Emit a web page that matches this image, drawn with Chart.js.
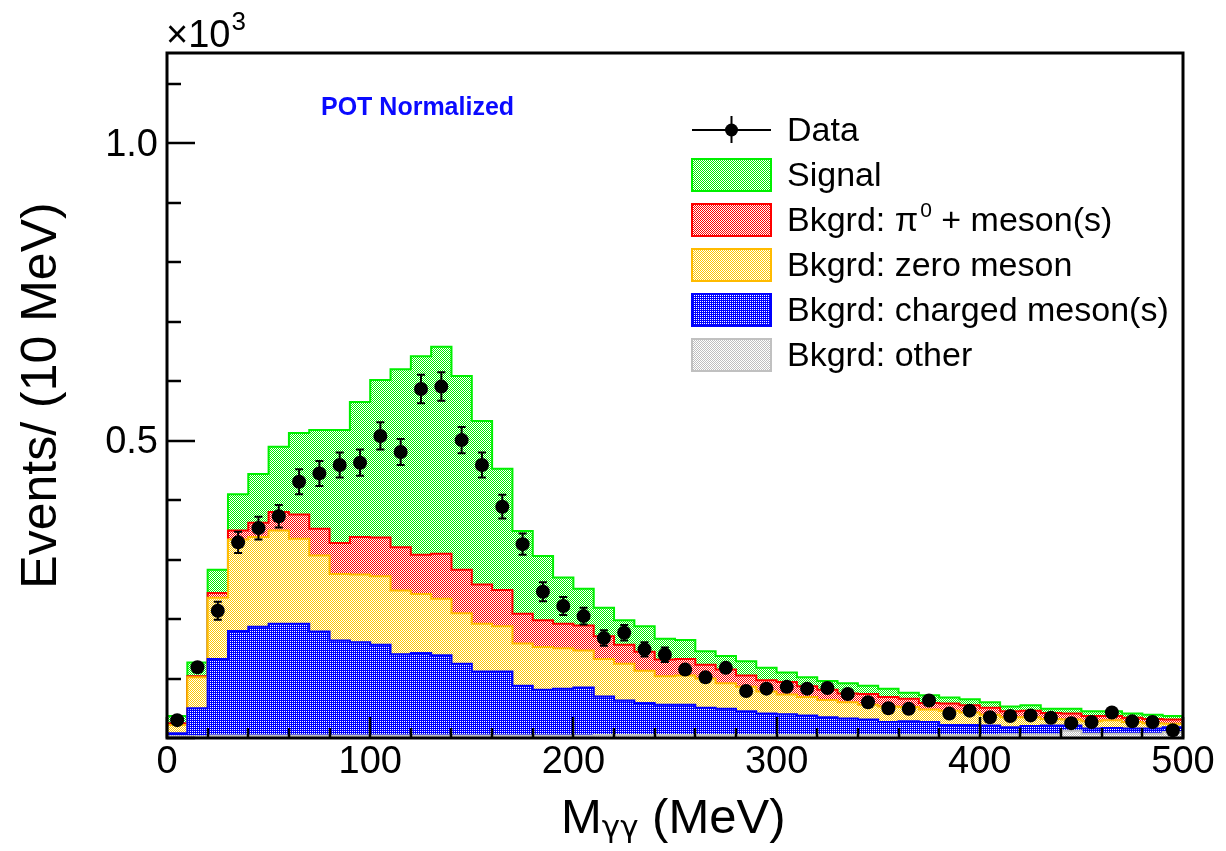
<!DOCTYPE html>
<html><head><meta charset="utf-8">
<script src="https://cdn.jsdelivr.net/npm/chart.js@4/dist/chart.umd.min.js"></script>
<style>html,body{margin:0;padding:0;background:#fff;overflow:hidden}</style>
</head><body>
<canvas id="c" width="1226" height="851"></canvas>
<script>
// ---------------- DATA (events per 10 MeV) ----------------
const binEdges = [0,10,20,30,40,50,60,70,80,90,100,110,120,130,140,150,160,170,180,190,200,
  210,220,230,240,250,260,270,280,290,300,310,320,330,340,350,360,370,380,390,400,
  410,420,430,440,450,460,470,480,490,500];
const other   = [3,3,4,4,4,4,4,4,4,4, 4,4,4,4,4,4,4,4,4,4, 4,5,5,5,5,5,5,5,5,5, 5,5,5,5,5,5,5,5,5,5, 5,6,6,6,12,7,7,7,7,10];
const charged = [5,47,129,176,183,188,188,175,160,157, 153,137,139,135,121,108,108,84,77,79, 81,65,58,54,51,51,46,44,40,36, 35,33,30,28,26,22,23,22,17,17, 16,12,14,15,9,9,10,9,9,8];
const zeroMes = [14,52,103,154,151,157,143,128,112,114, 115,107,99,95,85,80,76,71,72,68, 62,63,62,54,48,49,49,43,41,37, 33,31,29,27,25,26,24,21,24,21, 18,17,15,11,10,12,13,11,9,6];
const pi0Mes  = [3,2,8,15,24,31,41,45,52,63, 65,73,66,76,73,66,61,50,45,41, 42,38,32,32,28,28,23,23,19,19, 21,18,17,15,18,16,14,11,12,12, 12,10,11,10,10,9,7,7,7,7];
const signal  = [12,23,39,61,82,110,137,166,190,227, 265,299,334,348,326,275,204,139,108,78, 62,48,41,43,35,32,23,23,24,21, 16,15,15,17,14,14,10,13,10,10, 9,8,9,7,8,8,8,7,7,6];
const dataVals= [30,119,214,329,353,373,431,445,459,463, 508,481,587,591,501,459,389,326,246,222, 205,168,177,149,140,115,102,118,79,83, 86,83,84,74,60,50,49,63,41,46, 35,37,38,34,25,27,43,28,27,13];
const dataErr = [6,11,15,18,19,19,21,21,21,22, 23,22,24,24,22,21,20,18,16,15, 14,13,13,12,12,11,10,11,9,9, 9,9,9,9,8,7,7,8,6,7, 6,6,6,6,5,5,7,5,5,4];

const xTickValues = [0,100,200,300,400,500];
const xTickLabels = ['0','100','200','300','400','500'];
const yTickValues = [500,1000];
const yTickLabels = ['0.5','1.0'];
const legendLabels = ['Data','Signal','Bkgrd: π⁰ + meson(s)','Bkgrd: zero meson','Bkgrd: charged meson(s)','Bkgrd: other'];

// ---------------- STYLE ----------------
const FONT = "'Liberation Sans', Arial, Helvetica, sans-serif";
const colGreen = '#00f000', colRed = '#ff0000', colYellow = '#ffc800', colBlue = '#0000ff', colGray = '#bfbfbf';

function pat(color, dense){
  const c = document.createElement('canvas'); c.width = 2; c.height = 2;
  const g = c.getContext('2d');
  g.fillStyle = '#ffffff'; g.fillRect(0,0,2,2);
  g.fillStyle = color; g.fillRect(0,0,1,1); g.fillRect(1,1,1,1);
  if (dense) g.fillRect(1,0,1,1);
  return g.createPattern(c,'repeat');
}
function hist(vals){
  const pts = vals.map((v,i)=>({x:binEdges[i], y:v}));
  pts.push({x:binEdges[vals.length], y:vals[vals.length-1]});
  return pts;
}
function histDs(label, vals, fillPat, line, fill){
  return {label, data:hist(vals), stepped:'before', pointRadius:0, borderWidth:2,
    borderColor:line, backgroundColor:fillPat, fill, stack:'mc', tension:0};
}
const centers = dataVals.map((v,i)=>(binEdges[i]+binEdges[i+1])/2);

const legendStyles = [
  null,
  {fill:pat(colGreen), line:colGreen},
  {fill:pat(colRed), line:colRed},
  {fill:pat(colYellow), line:'#ffbb00'},
  {fill:pat(colBlue, true), line:colBlue},
  {fill:pat(colGray), line:'#c0c0c0'}
];

const rootDecor = {
  id:'rootDecor',
  afterDatasetsDraw(chart){
    const ctx = chart.ctx, xs = chart.scales.x, ys = chart.scales.y;
    ctx.save();
    ctx.strokeStyle = '#000'; ctx.lineWidth = 2;
    const r = 7;
    dataVals.forEach((v,i)=>{
      const px = xs.getPixelForValue(centers[i]);
      const py = ys.getPixelForValue(v);
      const hi = ys.getPixelForValue(v + dataErr[i]);
      const lo = ys.getPixelForValue(v - dataErr[i]);
      if (lo - py > r) {
        ctx.beginPath(); ctx.moveTo(px, hi); ctx.lineTo(px, lo); ctx.stroke();
        ctx.beginPath(); ctx.moveTo(px-4, hi); ctx.lineTo(px+4, hi);
        ctx.moveTo(px-4, lo); ctx.lineTo(px+4, lo); ctx.stroke();
      }
    });
    ctx.restore();
  },
  afterDraw(chart){
    const ctx = chart.ctx, ca = chart.chartArea, xs = chart.scales.x, ys = chart.scales.y;
    ctx.save();
    // frame
    ctx.strokeStyle = '#000'; ctx.lineWidth = 3;
    ctx.strokeRect(ca.left, ca.top, ca.right-ca.left, ca.bottom-ca.top);
    // x ticks (inside)
    ctx.lineWidth = 2.5;
    for (let v = 0; v <= 500; v += 20) {
      const px = Math.round(xs.getPixelForValue(v));
      const len = (v % 100 === 0) ? 21 : 10;
      ctx.beginPath(); ctx.moveTo(px, ca.bottom); ctx.lineTo(px, ca.bottom - len); ctx.stroke();
    }
    // y ticks (inside)
    for (let v = 0; v <= ys.max; v += 100) {
      const py = Math.round(ys.getPixelForValue(v));
      const len = (v % 500 === 0) ? 28 : 14;
      ctx.beginPath(); ctx.moveTo(ca.left, py); ctx.lineTo(ca.left + len, py); ctx.stroke();
    }
    ctx.fillStyle = '#000';
    ctx.textAlign = 'left'; ctx.textBaseline = 'alphabetic';
    // exponent label x10^3
    ctx.font = `38px ${FONT}`;
    ctx.fillText('×10', 166, 47);
    const w10 = ctx.measureText('×10').width;
    ctx.font = `26px ${FONT}`;
    ctx.fillText('3', 166 + w10 + 1, 30);
    // x title M_{γγ} (MeV)
    ctx.font = `49px ${FONT}`;
    ctx.fillText('M', 561, 833);
    let xx = 561 + ctx.measureText('M').width;
    ctx.font = `31px 'DejaVu Sans', ${FONT}`;
    ctx.fillText('γγ', xx, 837);
    xx += ctx.measureText('γγ').width;
    ctx.font = `49px ${FONT}`;
    ctx.fillText(' (MeV)', xx, 833);
    // POT Normalized
    ctx.fillStyle = '#0a0aff';
    ctx.font = `bold 25px ${FONT}`;
    ctx.fillText('POT Normalized', 321, 115);
    // legend
    ctx.fillStyle = '#000';
    const rowY = [130,175,220,265,310,355];
    const bx = 692, bw = 79, bh = 32, tx = 787;
    legendLabels.forEach((lab,i)=>{
      const cy = rowY[i];
      if (i === 0) {
        ctx.strokeStyle = '#000'; ctx.lineWidth = 2;
        ctx.beginPath(); ctx.moveTo(bx, cy); ctx.lineTo(bx+bw, cy);
        ctx.moveTo(bx+bw/2, cy-14); ctx.lineTo(bx+bw/2, cy+13); ctx.stroke();
        ctx.beginPath(); ctx.arc(bx+bw/2, cy, 6.5, 0, Math.PI*2); ctx.fill();
      } else {
        const st = legendStyles[i];
        ctx.fillStyle = st.fill;
        ctx.fillRect(bx, cy-bh/2, bw, bh);
        ctx.strokeStyle = st.line; ctx.lineWidth = 2;
        ctx.strokeRect(bx, cy-bh/2, bw, bh);
        ctx.fillStyle = '#000';
      }
      ctx.font = `34px ${FONT}`;
      const base = cy + 11;
      const k = lab.indexOf('⁰');
      if (k < 0) {
        ctx.fillText(lab, tx, base);
      } else {
        const a = lab.slice(0,k), b = lab.slice(k+1);
        ctx.fillText(a, tx, base);
        let x2 = tx + ctx.measureText(a).width + 2;
        ctx.font = `21px ${FONT}`;
        ctx.fillText('0', x2, base - 14);
        x2 += ctx.measureText('0').width;
        ctx.font = `34px ${FONT}`;
        ctx.fillText(b, x2, base);
      }
    });
    ctx.restore();
  }
};

new Chart(document.getElementById('c'), {
  type:'line',
  data:{datasets:[
    {label:'Data', data:dataVals.map((v,i)=>({x:centers[i], y:v})), showLine:false,
     pointRadius:7, pointHoverRadius:7, pointBackgroundColor:'#000', pointBorderWidth:0, stack:'data', fill:false},
    histDs('Bkgrd: other', other, legendStyles[5].fill, '#c0c0c0', 'origin'),
    histDs('Bkgrd: charged meson(s)', charged, legendStyles[4].fill, colBlue, '-1'),
    histDs('Bkgrd: zero meson', zeroMes, legendStyles[3].fill, '#ffbb00', '-1'),
    histDs('Bkgrd: π⁰ + meson(s)', pi0Mes, legendStyles[2].fill, colRed, '-1'),
    histDs('Signal', signal, legendStyles[1].fill, colGreen, '-1')
  ]},
  options:{
    responsive:false, animation:false, devicePixelRatio:1,
    layout:{padding:{top:53, right:43, left:0, bottom:0}},
    plugins:{legend:{display:false}, tooltip:{enabled:false}},
    events:[],
    scales:{
      x:{type:'linear', min:0, max:500,
        grid:{display:false, drawTicks:false}, border:{display:false},
        afterBuildTicks:(s)=>{ s.ticks = xTickValues.map(v=>({value:v})); },
        afterFit:(s)=>{ s.height = 113; },
        ticks:{font:{family:FONT, size:38}, color:'#000', padding:2, maxRotation:0, autoSkip:false,
          callback:(v)=>xTickLabels[xTickValues.indexOf(v)]}
      },
      y:{type:'linear', stacked:true, min:0, max:1152,
        grid:{display:false, drawTicks:false}, border:{display:false},
        afterBuildTicks:(s)=>{ s.ticks = yTickValues.map(v=>({value:v})); },
        afterFit:(s)=>{ s.width = 167; },
        ticks:{font:{family:FONT, size:38}, color:'#000', padding:9, labelOffset:2,
          callback:(v)=>yTickLabels[yTickValues.indexOf(v)]},
        title:{display:true, text:'Events/ (10 MeV)', color:'#000', font:{family:FONT, size:50}, padding:{top:12, bottom:0}}
      }
    }
  },
  plugins:[rootDecor]
});
</script>
</body></html>
